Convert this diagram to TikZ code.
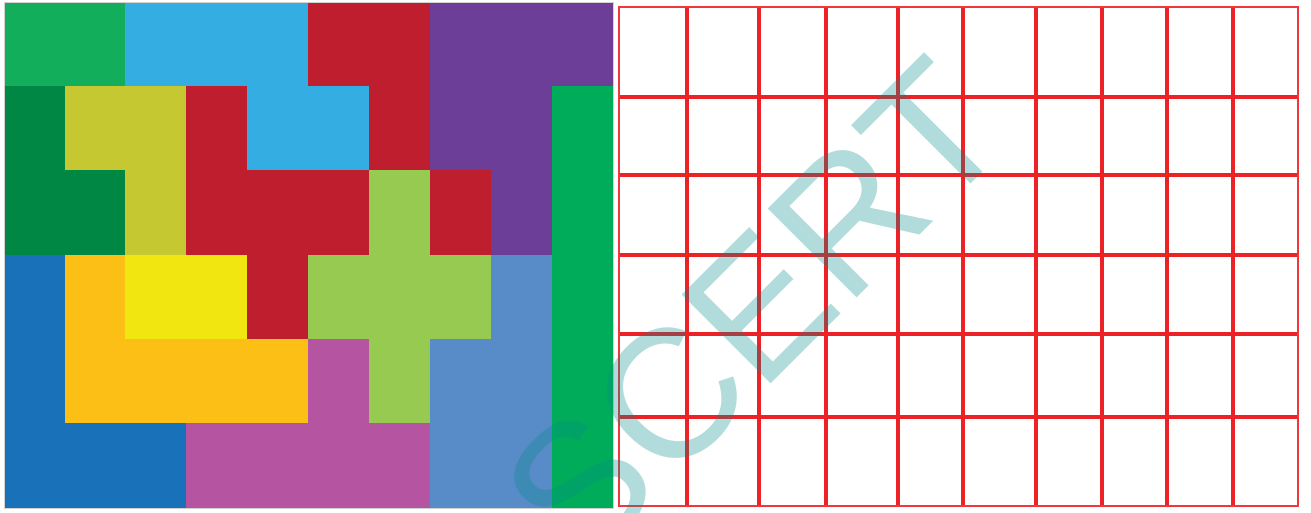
\documentclass[tikz,border=0pt]{standalone}
\usepackage{fontspec}
\usepackage{xcolor}
\usepackage{tikz}
\newfontfamily\wmfont{Liberation Sans}
\definecolor{pentG}{HTML}{12AE5B}
\definecolor{pentB}{HTML}{33ADE2}
\definecolor{pentR}{HTML}{BE1E2D}
\definecolor{pentP}{HTML}{6D3E97}
\definecolor{pentD}{HTML}{008744}
\definecolor{pentY}{HTML}{C5C831}
\definecolor{pentL}{HTML}{97CA51}
\definecolor{pentN}{HTML}{00AC5A}
\definecolor{pentU}{HTML}{1971B9}
\definecolor{pentO}{HTML}{FCBF16}
\definecolor{pentW}{HTML}{F2E610}
\definecolor{pentM}{HTML}{B554A0}
\definecolor{pentS}{HTML}{588CC8}
\definecolor{gridred}{HTML}{ED2227}
\definecolor{wmteal}{HTML}{008B8A}

\begin{document}
\begin{tikzpicture}[x=0.02cm,y=-0.02cm,
  cell/.style={fill=#1,draw=#1,line width=0.4pt},
  gridln/.style={draw=gridred,line width=2.3pt},
  gridedge/.style={draw=gridred!90,line width=1.3pt},
  wmark/.style={text=wmteal,opacity=0.3,rotate=45,inner sep=0pt,anchor=base,
    font=\wmfont\fontsize{104}{104}\selectfont}]
  \useasboundingbox (0,0) rectangle (1311,513);
  % board: one letter per cell, row by row
  \foreach \row [count=\j from 0] in {{G,G,B,B,B,R,R,P,P,P},{D,Y,Y,R,B,B,R,P,P,N},
      {D,D,Y,R,R,R,L,R,P,N},{U,O,W,W,R,L,L,L,S,N},{U,O,O,O,O,M,L,S,S,N},
      {U,U,U,M,M,M,M,S,S,N}}
    \foreach \c [count=\i from 0] in \row
      \path[cell=pent\c] ({4+60.9*\i},{2+84.33*\j}) rectangle ++(60.9,84.33);
  \draw[gray!35,line width=0.5pt] (4,2) rectangle (613,508);
  % empty grid
  \foreach \gx in {687,759,826,898,963,1036,1102,1167,1233}
    \draw[gridln] (\gx,7) -- (\gx,506);
  \foreach \gy in {97,175,255,334,417}
    \draw[gridln] (619,\gy) -- (1298,\gy);
  \draw[gridedge] (619,7) rectangle (1298,506);
  % watermark
  \node[wmark] (wm) at (798.75,356.25) {SCERT};
\end{tikzpicture}
\end{document}
